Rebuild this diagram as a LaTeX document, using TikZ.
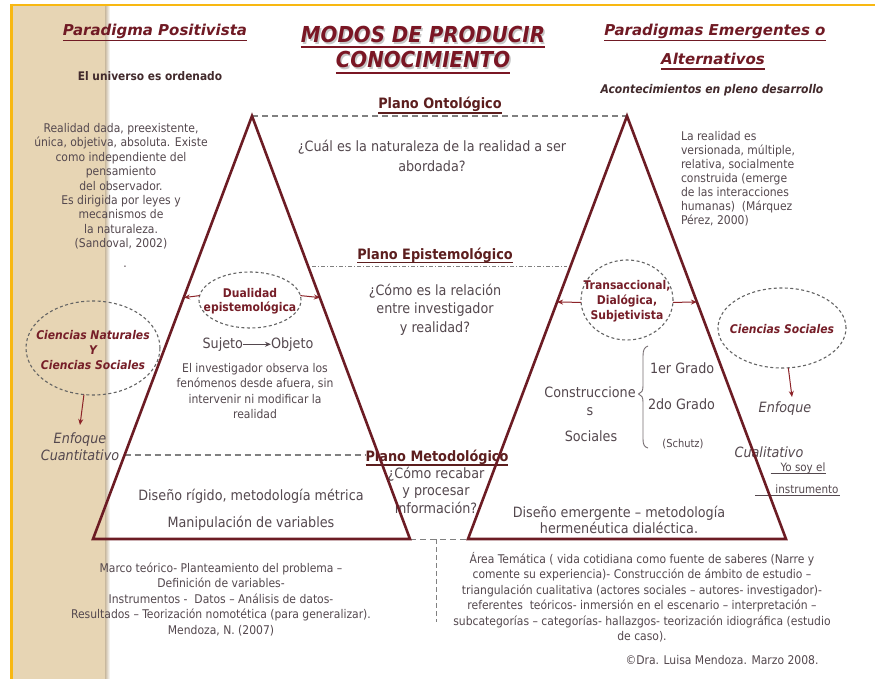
\documentclass[tikz,border=0pt]{standalone}
\usepackage{graphicx}
\usepackage{fontspec}
\setmainfont{DejaVu Sans Condensed}
\newfontfamily\widefont{DejaVu Sans}
\usetikzlibrary{arrows.meta,shapes.geometric,calc}
\definecolor{bordercol}{RGB}{248,184,18}
\definecolor{stripcol}{RGB}{231,213,180}
\definecolor{stripdark}{RGB}{200,184,158}
\definecolor{tricol}{RGB}{108,28,36}
\definecolor{titred}{RGB}{122,22,36}
\definecolor{headred}{RGB}{112,26,36}
\definecolor{planored}{RGB}{92,30,30}
\definecolor{txt}{RGB}{84,72,78}
\definecolor{darktxt}{RGB}{66,42,44}
\definecolor{elred}{RGB}{118,30,40}
\definecolor{arrred}{RGB}{140,35,40}
\definecolor{dashgray}{RGB}{128,128,128}
\definecolor{ellgray}{RGB}{100,100,100}
\newcommand\mystrut{\rule{0pt}{1em}}
\tikzset{
  txtsm/.style={text=txt, align=center, font=\fontsize{12}{15.4}\selectfont},
  txtbig/.style={text=txt, align=center, font=\fontsize{14.2}{18}\selectfont},
  plano/.style={text=planored, font=\fontsize{14.3}{17}\selectfont\bfseries},
  headtxt/.style={text=headred, font=\widefont\fontsize{15}{18}\selectfont\bfseries\itshape},
  ttl/.style={text=titred, font=\widefont\fontsize{22}{26}\selectfont\bfseries\itshape},
  ellbox/.style={ellipse, draw=ellgray, dash pattern=on 3pt off 2.5pt, line width=1.1pt},
  elltext/.style={text=elred, align=center, font=\fontsize{12}{15}\selectfont\bfseries},
  tri/.style={draw=tricol, line width=2.6pt},
  planeline/.style={draw=dashgray, line width=1.2pt, dash pattern=on 6pt off 4pt},
  redarrow/.style={draw=arrred, line width=1pt, -{Stealth[length=6pt,width=5pt]}},
  uline/.style={line width=1.3pt},
}
\begin{document}
\begin{tikzpicture}[x=1pt,y=-1pt, every node/.style={inner sep=0pt,outer sep=0pt}]
\useasboundingbox (0,0) rectangle (875,679);
\fill[white] (0,0) rectangle (875,679);
% left strip and border
\fill[stripcol] (12,5) rectangle (105,679);
\shade[left color=stripdark, right color=white] (105,5) rectangle (110,679);
\draw[bordercol, line width=2.5pt] (10.3,5) -- (875,5);
\draw[bordercol, line width=2.5pt] (11.5,4) -- (11.5,679);

% triangle vertices
\coordinate (La) at (252,116);
\coordinate (Lbl) at (93,539);
\coordinate (Lbr) at (410,539);
\coordinate (Ra) at (627,116);
\coordinate (Rbl) at (468,539);
\coordinate (Rbr) at (786,539);

% title
\node[ttl, text=black!22, anchor=base] (ts1) at (424.5,44.5) {\scalebox{0.9}[1]{MODOS DE PRODUCIR}};
\node[ttl, text=black!22, anchor=base] (ts2) at (424.5,69.5) {\scalebox{0.9}[1]{CONOCIMIENTO}};
\node[ttl, anchor=base] (t1) at (423,43) {\scalebox{0.9}[1]{MODOS DE PRODUCIR}};
\node[ttl, anchor=base] (t2) at (423,68) {\scalebox{0.9}[1]{CONOCIMIENTO}};
\draw[titred, line width=2pt] ($(t1.base west)+(0,4)$) -- ($(t1.base east)+(0,4)$);
\draw[titred, line width=2pt] ($(t2.base west)+(0,5)$) -- ($(t2.base east)+(0,5)$);

% headings
\node[headtxt, anchor=base] (pp) at (155,36) {Paradigma Positivista};
\draw[headred, uline] ($(pp.base west)+(0,4.5)$) -- ($(pp.base east)+(0,4.5)$);
\node[headtxt, anchor=base] (pe) at (715,36) {Paradigmas Emergentes o};
\draw[headred, uline] ($(pe.base west)+(0,4.5)$) -- ($(pe.base east)+(0,4.5)$);
\node[headtxt, anchor=base] (pa) at (713,64.5) {Alternativos};
\draw[headred, uline] ($(pa.base west)+(0,4.5)$) -- ($(pa.base east)+(0,4.5)$);
\node[text=darktxt, font=\fontsize{11.8}{14}\selectfont\bfseries, anchor=base] (uo) at (150,81) {El universo es ordenado};
\node[text=darktxt, font=\fontsize{12}{14}\selectfont\bfseries\itshape, anchor=base] (ac) at (712,93.5) {Acontecimientos en pleno desarrollo};

% side paragraphs
\node[txtsm, font=\fontsize{12}{14.4}\selectfont, anchor=north] (lp) at (121,120.4) {\mystrut Realidad dada, preexistente,\\única, objetiva, absoluta. Existe\\como independiente del\\pensamiento\\del observador.\\Es dirigida por leyes y\\mecanismos de\\la naturaleza.\\(Sandoval, 2002)};
\node[txtsm, anchor=base] (dot) at (125,267) {.};
\node[txtsm, font=\fontsize{12}{14}\selectfont, align=left, anchor=north west] (rp) at (681,128.4) {\mystrut La realidad es\\versionada, múltiple,\\relativa, socialmente\\construida (emerge\\de las interacciones\\humanas)\ \ (Márquez\\Pérez, 2000)};

% planes
\node[plano, anchor=base] (po) at (440,109) {Plano Ontológico};
\draw[planored, line width=1.1pt] ($(po.base west)+(0,4)$) -- ($(po.base east)+(0,4)$);
\draw[planeline] (La) -- (Ra);
\node[txtbig, font=\fontsize{14.2}{20.5}\selectfont, anchor=north] (q1) at (432,137) {\mystrut ¿Cuál es la naturaleza de la realidad a ser\\abordada?};

\node[plano, anchor=base] (pep) at (435,259) {Plano Epistemológico};
\draw[planored, line width=1.1pt] ($(pep.base west)+(0,3.5)$) -- ($(pep.base east)+(0,3.5)$);
\coordinate (e1) at (312,266);
\coordinate (e2) at (567,266);
\draw[draw=dashgray, line width=1pt, dash pattern=on 4pt off 2pt on 1pt off 2pt] (e1) -- (e2);
\node[txtbig, font=\fontsize{14.2}{18.5}\selectfont, anchor=north] (q2) at (435,281) {\mystrut ¿Cómo es la relación\\entre investigador\\y realidad?};

\node[plano, anchor=base] (pm) at (437,461) {Plano Metodológico};
\draw[planored, line width=1.1pt] ($(pm.base west)+(0,4)$) -- ($(pm.base east)+(0,4)$);
\coordinate (m1) at (124.6,455);
\draw[planeline] (m1) -- (m1 -| pm.west);
\node[txtbig, font=\fontsize{14.2}{17.5}\selectfont, anchor=north] (q3) at (436,464) {\mystrut ¿Cómo recabar\\y procesar\\información?};

% left triangle content
\node[ellbox, minimum width=102pt, minimum height=56pt] (due) at (250,300) {};
\node[elltext, font=\fontsize{12}{14}\selectfont\bfseries] (dut) at (250,301.2) {Dualidad\\epistemológica};
\coordinate (dl) at (184,297.6);
\coordinate (dr) at (320,297.6);
\draw[redarrow] (due.175) -- (dl);
\draw[redarrow] (due.5) -- (dr);
\node[txtbig, anchor=base east] (suj) at (243,348.2) {Sujeto};
\node[txtbig, anchor=base west] (obj) at (271,348.2) {Objeto};
\draw[draw=txt, line width=1pt, -{Stealth[length=6pt,width=5pt]}] (suj.east) -- (obj.west);
\node[txtsm, anchor=north] (inv) at (255,360.4) {\mystrut El investigador observa los\\fenómenos desde afuera, sin\\intervenir ni modificar la\\realidad};

\node[ellbox, minimum width=134pt, minimum height=94pt] (cne) at (93,348) {};
\node[elltext, font=\fontsize{12}{15}\selectfont\bfseries\itshape] (cnt) at (93,350) {Ciencias Naturales\\Y\\Ciencias Sociales};
\node[txtbig, font=\fontsize{14.2}{17}\selectfont\itshape, anchor=north] (eq) at (80,429) {\mystrut Enfoque\\Cuantitativo};
\draw[redarrow] (cne.259) -- ($(eq.north)+(0,-4)$);

\node[txtbig, anchor=base] (dr1) at (251,500.2) {Diseño rígido, metodología métrica};
\node[txtbig, anchor=base] (dr2) at (251,527.2) {Manipulación de variables};
\node[txtsm, font=\fontsize{12}{15.5}\selectfont, anchor=north] (bl) at (221,560.4) {\mystrut Marco teórico- Planteamiento del problema –\\Definición de variables-\\Instrumentos -\ \ Datos – Análisis de datos-\\Resultados – Teorización nomotética (para generalizar).\\Mendoza, N. (2007)};

% right triangle content
\node[ellbox, minimum width=92pt, minimum height=80pt] (tre) at (627,300) {};
\node[elltext] (trt) at (627,301.2) {Transaccional,\\Dialógica,\\Subjetivista};
\coordinate (trl) at (557.1,302);
\coordinate (trr) at (696.9,302);
\draw[redarrow] (tre.183) -- (trl);
\draw[redarrow] (tre.357) -- (trr);

\node[txtbig, anchor=base] (cs1) at (590,397.9) {Construccione};
\node[txtbig, anchor=base] (cs2) at (590,415.5) {s};
\node[txtbig, anchor=base] (cs3) at (591,441.9) {Sociales};
\draw[draw=txt!80, line width=0.9pt] (648,346) .. controls (644.5,347) and (643,350) .. (643,356) -- (643,386) .. controls (643,391) and (641.5,393) .. (638.5,394) .. controls (641.5,395) and (643,397) .. (643,402) -- (643,439) .. controls (643,445) and (644.5,447) .. (648,448);
\node[txtbig, anchor=base west] (g1) at (650,373.2) {1er Grado};
\node[txtbig, anchor=base west] (g2) at (648,409.2) {2do Grado};
\node[txtsm, font=\fontsize{11}{13}\selectfont, anchor=base] (sch) at (683,447) {(Schutz)};

\node[ellbox, minimum width=128pt, minimum height=80pt] (cse) at (782,328) {};
\node[elltext, font=\fontsize{12}{15}\selectfont\bfseries\itshape] (cst) at (782,329) {Ciencias Sociales};
\node[txtbig, font=\fontsize{14.2}{17}\selectfont\itshape, anchor=base] (ens) at (785,412.2) {Enfoque};
\coordinate (csa) at (792,397);
\draw[redarrow] (cse.279) -- (csa);
\node[txtbig, font=\fontsize{14.2}{17}\selectfont\itshape, anchor=base] (cual) at (769,457.2) {Cualitativo};
\node[txtsm, font=\fontsize{11.5}{14}\selectfont, anchor=base] (yo) at (803,471.2) {Yo soy el};
\draw[draw=txt, line width=0.8pt] ($(yo.base west)+(-10,2.5)$) -- ($(yo.base east)+(1,2.5)$);
\node[txtsm, font=\fontsize{11.5}{14}\selectfont, anchor=base] (ins) at (807,493.2) {instrumento};
\draw[draw=txt, line width=0.8pt] ($(ins.base west)+(-20,2.5)$) -- ($(ins.base east)+(1,2.5)$);

\node[txtbig, anchor=base] (de1) at (619,517) {Diseño emergente – metodología};
\node[txtbig, anchor=base] (de2) at (619,533.5) {hermenéutica dialéctica.};
\node[txtsm, anchor=north] (br) at (642,551.4) {\mystrut Área Temática ( vida cotidiana como fuente de saberes (Narre y\\comente su experiencia)- Construcción de ámbito de estudio –\\triangulación cualitativa (actores sociales – autores- investigador)-\\referentes\ \ teóricos- inmersión en el escenario – interpretación –\\subcategorías – categorías- hallazgos- teorización idiográfica (estudio\\de caso).};
\node[txtsm, anchor=base] (copy) at (722,664.4) {©Dra. Luisa Mendoza. Marzo 2008.};

% bottom connector lines
\draw[planeline, line width=1pt] (Lbr) -- (Rbl);
\coordinate (vb1) at (436,539);
\coordinate (vb2) at (436,622);
\draw[planeline, line width=1pt, dash pattern=on 5pt off 3pt] (vb1) -- (vb2);

% triangles on top
\draw[tri] (La) -- (Lbr) -- (Lbl) -- cycle;
\draw[tri] (Ra) -- (Rbr) -- (Rbl) -- cycle;
\end{tikzpicture}
\end{document}
